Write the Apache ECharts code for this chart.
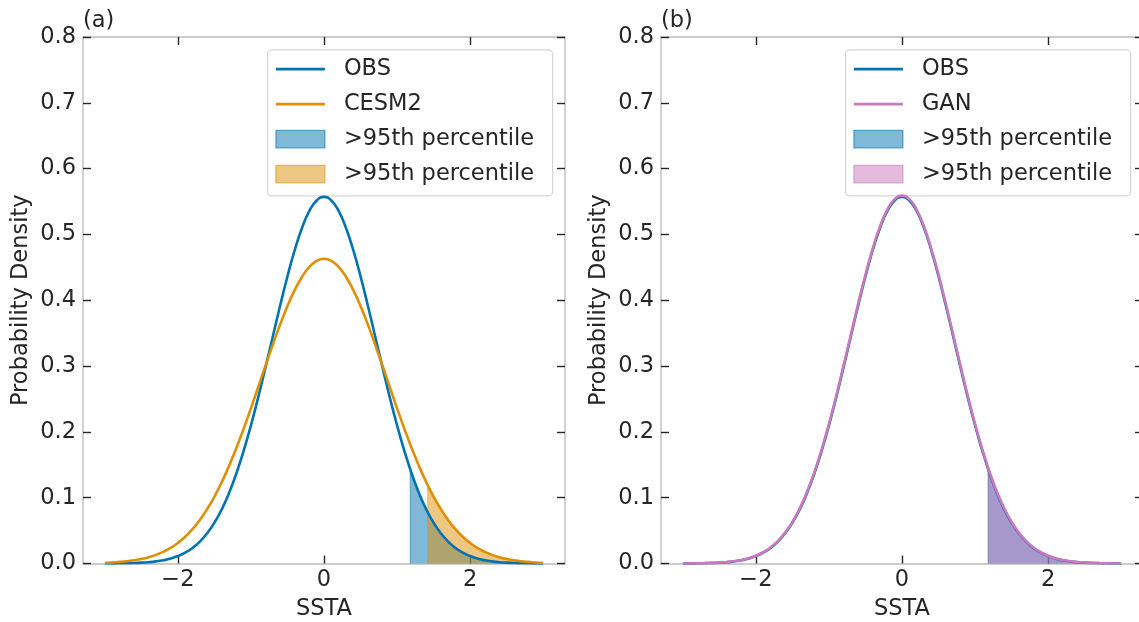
<!DOCTYPE html>
<html>
<head>
<meta charset="utf-8">
<script src="https://cdn.jsdelivr.net/npm/echarts@6/dist/echarts.min.js"></script>
<style>
  html, body { margin: 0; padding: 0; background: #fff; }
  #chart { width: 1139px; height: 622px; }
</style>
</head>
<body>
<div id="chart"></div>
<script>
// SSTA grid, -3 .. 3 step 0.1
var ssta = [];
for (var i = 0; i <= 60; i++) ssta.push(Math.round((-3 + i * 0.1) * 10) / 10);

// densities
var obsDensity = [
  0.0001, 0.0002, 0.0003, 0.0005, 0.0008, 0.0013, 0.0020, 0.0032, 0.0050, 0.0075,
  0.0113, 0.0165, 0.0236, 0.0332, 0.0459, 0.0620, 0.0823, 0.1072, 0.1368, 0.1712,
  0.2101, 0.2528, 0.2984, 0.3454, 0.3921, 0.4365, 0.4765, 0.5102, 0.5357, 0.5516,
  0.5570,
  0.5516, 0.5357, 0.5102, 0.4765, 0.4365, 0.3921, 0.3454, 0.2984, 0.2528, 0.2101,
  0.1712, 0.1368, 0.1072, 0.0823, 0.0620, 0.0459, 0.0332, 0.0236, 0.0165, 0.0113,
  0.0075, 0.0050, 0.0032, 0.0020, 0.0013, 0.0008, 0.0005, 0.0003, 0.0002, 0.0001
];
var cesmDensity = [
  0.0011, 0.0016, 0.0024, 0.0034, 0.0049, 0.0069, 0.0096, 0.0131, 0.0178, 0.0237,
  0.0313, 0.0407, 0.0522, 0.0661, 0.0826, 0.1017, 0.1237, 0.1483, 0.1755, 0.2049,
  0.2361, 0.2683, 0.3009, 0.3328, 0.3633, 0.3912, 0.4157, 0.4358, 0.4507, 0.4599,
  0.4630,
  0.4599, 0.4507, 0.4358, 0.4157, 0.3912, 0.3633, 0.3328, 0.3009, 0.2683, 0.2361,
  0.2049, 0.1755, 0.1483, 0.1237, 0.1017, 0.0826, 0.0661, 0.0522, 0.0407, 0.0313,
  0.0237, 0.0178, 0.0131, 0.0096, 0.0069, 0.0049, 0.0034, 0.0024, 0.0016, 0.0011
];
var ganDensity = [
  0.0001, 0.0002, 0.0004, 0.0006, 0.0009, 0.0015, 0.0023, 0.0035, 0.0053, 0.0079,
  0.0118, 0.0171, 0.0243, 0.0341, 0.0470, 0.0633, 0.0838, 0.1089, 0.1387, 0.1733,
  0.2124, 0.2553, 0.3010, 0.3480, 0.3947, 0.4390, 0.4789, 0.5124, 0.5378, 0.5536,
  0.5590,
  0.5536, 0.5378, 0.5124, 0.4789, 0.4390, 0.3947, 0.3480, 0.3010, 0.2553, 0.2124,
  0.1733, 0.1387, 0.1089, 0.0838, 0.0633, 0.0470, 0.0341, 0.0243, 0.0171, 0.0118,
  0.0079, 0.0053, 0.0035, 0.0023, 0.0015, 0.0009, 0.0006, 0.0004, 0.0002, 0.0001
];

// 95th percentile start of shading: [ssta, density]
var obsP95 = [1.18, 0.141];
var cesmP95 = [1.42, 0.118];
var ganP95 = [1.18, 0.142];

var xTicks = [-2, 0, 2];
var legendA = ['OBS', 'CESM2', '>95th percentile', '>95th percentile'];
var legendB = ['OBS', 'GAN', '>95th percentile', '>95th percentile'];

var BLUE = '#0173b2', ORANGE = '#de8f05', PINK = '#cc78bc';
var FONT = 'DejaVu Sans';
var FS = 22.5;
var INK = '#262626';

function rgba(hex, a) {
  var n = parseInt(hex.slice(1), 16);
  return 'rgba(' + (n >> 16) + ',' + ((n >> 8) & 255) + ',' + (n & 255) + ',' + a + ')';
}

function pairs(vals) {
  return ssta.map(function (x, i) { return [x, vals[i]]; });
}

function tail(vals, p95) {
  var out = [[p95[0], 0], p95];
  ssta.forEach(function (x, i) { if (x > p95[0]) out.push([x, vals[i]]); });
  return out;
}

var grids = [
  { left: 83, top: 37, width: 482, height: 526.5, outerBoundsMode: 'none' },
  { left: 661, top: 37, width: 482, height: 526.5, outerBoundsMode: 'none' }
];

var spine = { show: true, onZero: false, lineStyle: { color: '#cccccc', width: 1.8 } };
var tick = { show: true, inside: true, length: 8, lineStyle: { color: INK, width: 1.4 } };

var xAxes = [], yAxes = [];
grids.forEach(function (g, k) {
  xAxes.push({
    type: 'value', gridIndex: k, min: -3.3, max: 3.3, position: 'bottom',
    axisLine: spine, splitLine: { show: false },
    axisTick: Object.assign({ customValues: xTicks }, tick),
    axisLabel: {
      customValues: xTicks, margin: 5, color: INK, fontSize: FS, fontFamily: FONT,
      formatter: function (v) { return v < 0 ? '\u2212' + Math.abs(v) : String(v); }
    },
    name: 'SSTA', nameLocation: 'middle', nameGap: 34,
    nameTextStyle: { color: INK, fontSize: FS, fontFamily: FONT }
  });
  xAxes.push({
    type: 'value', gridIndex: k, min: -3.3, max: 3.3, position: 'top',
    axisLine: spine, splitLine: { show: false },
    axisTick: Object.assign({ customValues: xTicks }, tick),
    axisLabel: { show: false }
  });
  yAxes.push({
    type: 'value', gridIndex: k, min: 0, max: 0.8, interval: 0.1, position: 'left',
    axisLine: spine, splitLine: { show: false }, axisTick: tick,
    axisLabel: {
      margin: 7, color: INK, fontSize: FS, fontFamily: FONT,
      formatter: function (v) { return v.toFixed(1); }
    },
    name: 'Probability Density', nameLocation: 'middle', nameGap: 50,
    nameTextStyle: { color: INK, fontSize: FS, fontFamily: FONT }
  });
  yAxes.push({
    type: 'value', gridIndex: k, min: 0, max: 0.8, interval: 0.1, position: 'right',
    axisLine: spine, splitLine: { show: false }, axisTick: tick,
    axisLabel: { show: false }
  });
});

function curve(k, name, vals, color) {
  return {
    type: 'line', name: name, xAxisIndex: k * 2, yAxisIndex: k * 2,
    data: pairs(vals), showSymbol: false, smooth: 0.5, z: 5,
    lineStyle: { color: color, width: 2.6 }, silent: true
  };
}
function shade(k, vals, p95, color) {
  return {
    type: 'line', xAxisIndex: k * 2, yAxisIndex: k * 2,
    data: tail(vals, p95), showSymbol: false, z: 3,
    lineStyle: { color: rgba(color, 0.5), width: 1 },
    areaStyle: { color: rgba(color, 0.5), opacity: 1 }, silent: true
  };
}

function legendBox(k, labels, colors) {
  var g = grids[k];
  var children = [{
    type: 'rect', shape: { x: 0, y: 0, width: 285, height: 146, r: 4 },
    style: { fill: 'rgba(255,255,255,0.8)', stroke: '#d6d6d6', lineWidth: 1.2 }
  }];
  labels.forEach(function (lab, i) {
    var ry = 19.2 + 35 * i;
    if (i < 2) {
      children.push({
        type: 'line', shape: { x1: 8.3, y1: ry, x2: 57.3, y2: ry },
        style: { stroke: colors[i], lineWidth: 2.6 }
      });
    } else {
      children.push({
        type: 'rect', shape: { x: 8.3, y: ry - 8.7, width: 49, height: 17.4 },
        style: { fill: rgba(colors[i], 0.5), stroke: rgba(colors[i], 0.6), lineWidth: 1.2 }
      });
    }
    children.push({
      type: 'text', x: 76.3, y: ry,
      style: { text: lab, fill: INK, fontSize: FS, fontFamily: FONT, verticalAlign: 'middle' }
    });
  });
  return { type: 'group', left: g.left + 184, top: 49.3, z: 100, children: children };
}

var chart = echarts.init(document.getElementById('chart'), null, { renderer: 'canvas' });
chart.setOption({
  backgroundColor: '#ffffff',
  animation: false,
  title: [
    { text: '(a)', left: 83, top: 10, padding: 0, textStyle: { color: INK, fontSize: FS, fontWeight: 'normal', fontFamily: FONT } },
    { text: '(b)', left: 661, top: 10, padding: 0, textStyle: { color: INK, fontSize: FS, fontWeight: 'normal', fontFamily: FONT } }
  ],
  grid: grids,
  xAxis: xAxes,
  yAxis: yAxes,
  series: [
    shade(0, obsDensity, obsP95, BLUE),
    shade(0, cesmDensity, cesmP95, ORANGE),
    curve(0, 'OBS', obsDensity, BLUE),
    curve(0, 'CESM2', cesmDensity, ORANGE),
    shade(1, obsDensity, obsP95, BLUE),
    shade(1, ganDensity, ganP95, PINK),
    curve(1, 'OBS', obsDensity, BLUE),
    curve(1, 'GAN', ganDensity, PINK)
  ],
  graphic: [
    legendBox(0, legendA, [BLUE, ORANGE, BLUE, ORANGE]),
    legendBox(1, legendB, [BLUE, PINK, BLUE, PINK])
  ]
});
</script>
</body>
</html>
